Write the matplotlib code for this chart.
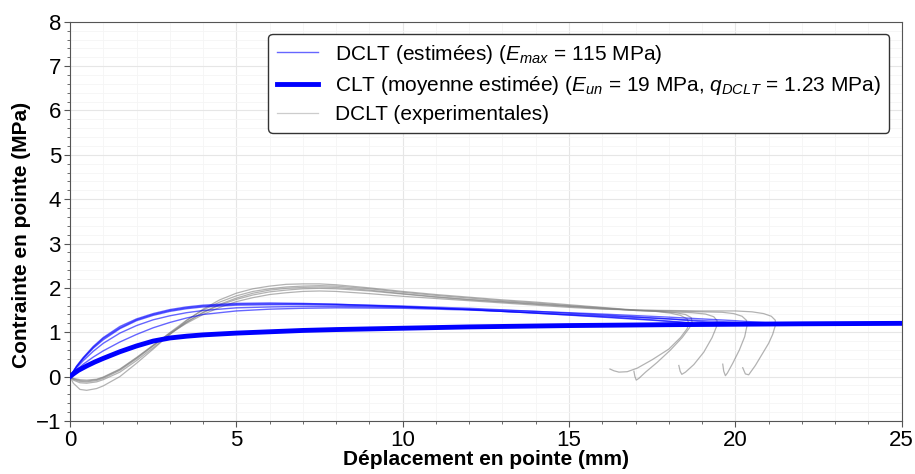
import matplotlib
matplotlib.use("Agg")
import matplotlib.pyplot as plt
from matplotlib.ticker import MultipleLocator
from matplotlib.lines import Line2D

plt.rcParams["font.family"] = ["Liberation Sans", "DejaVu Sans"]
plt.rcParams["mathtext.fontset"] = "custom"
plt.rcParams["mathtext.rm"] = "Liberation Sans"
plt.rcParams["mathtext.it"] = "Liberation Sans:italic"

# ── CLT moyenne estimée (courbe épaisse) ─────────────────────────────────
clt_x = [0, 0.1, 0.25, 0.5, 0.75, 1, 1.5, 2, 2.5, 3, 3.5, 4, 5, 6, 7, 8,
         10, 12, 15, 18, 20, 22, 25]
clt_y = [0, 0.06, 0.14, 0.24, 0.33, 0.41, 0.56, 0.69, 0.8, 0.87, 0.91, 0.94,
         0.98, 1.01, 1.04, 1.06, 1.09, 1.12, 1.15, 1.17, 1.18, 1.19, 1.2]

# ── DCLT estimées (courbes fines) ─────────────────────────────────────────
est_x1 = [0, 0.2, 0.4, 0.7, 1, 1.5, 2, 2.5, 3, 3.5, 4, 5, 6, 7, 8, 10, 12, 14, 16, 17.5, 18.6]
est_y1 = [0, 0.24, 0.43, 0.68, 0.88, 1.13, 1.3, 1.42, 1.51, 1.57, 1.61, 1.65, 1.66, 1.65, 1.63,
          1.58, 1.51, 1.43, 1.34, 1.27, 1.21]
est_x2 = [0, 0.2, 0.4, 0.7, 1, 1.5, 2, 2.5, 3, 3.5, 4, 5, 6, 7, 8, 10, 12, 14, 16, 17.5, 18.7]
est_y2 = [0, 0.22, 0.4, 0.64, 0.83, 1.08, 1.26, 1.38, 1.47, 1.53, 1.57, 1.61, 1.62, 1.62, 1.61,
          1.57, 1.51, 1.43, 1.35, 1.28, 1.21]
est_x3 = [0, 0.2, 0.4, 0.7, 1, 1.5, 2, 2.5, 3, 3.5, 4, 5, 6, 7, 8, 10, 12, 14, 16, 18, 19.45]
est_y3 = [0, 0.23, 0.42, 0.66, 0.86, 1.1, 1.28, 1.4, 1.49, 1.55, 1.59, 1.63, 1.64, 1.64, 1.63,
          1.59, 1.54, 1.47, 1.39, 1.3, 1.21]
est_x4 = [0, 0.2, 0.4, 0.7, 1, 1.5, 2, 2.5, 3, 3.5, 4, 5, 6, 7, 8, 10, 12, 14, 16, 18, 20.35]
est_y4 = [0, 0.15, 0.28, 0.44, 0.58, 0.78, 0.95, 1.1, 1.22, 1.32, 1.4, 1.48, 1.52, 1.54, 1.55,
          1.54, 1.5, 1.44, 1.37, 1.3, 1.21]
est_x5 = [0, 0.2, 0.4, 0.7, 1, 1.5, 2, 2.5, 3, 3.5, 4, 5, 6, 7, 8, 10, 12, 14, 16, 18, 20, 21.2]
est_y5 = [0, 0.2, 0.36, 0.57, 0.75, 0.98, 1.15, 1.28, 1.37, 1.44, 1.49, 1.55, 1.57, 1.58, 1.58,
          1.56, 1.52, 1.47, 1.41, 1.34, 1.26, 1.2]

# ── DCLT expérimentales (courbes grises) ─────────────────────────────────
exp_x1 = [0, 0.1, 0.3, 0.5, 0.8, 1, 1.5, 2, 2.5, 3, 3.5, 4, 4.5, 5, 5.5, 6, 6.5, 7, 7.5, 8,
          9, 10, 11, 12, 13, 14, 15, 16, 17, 17.6, 18.05, 18.35, 18.55, 18.6, 18.55, 18.35,
          18.0, 17.5, 17.05, 16.75, 16.5, 16.35, 16.23]
exp_y1 = [0, -0.15, -0.29, -0.31, -0.27, -0.21, 0.0, 0.3, 0.62, 0.95, 1.26, 1.52, 1.73,
          1.88, 1.98, 2.04, 2.08, 2.09, 2.09, 2.07, 2.0, 1.92, 1.85, 1.79, 1.73, 1.68, 1.62,
          1.56, 1.5, 1.47, 1.43, 1.38, 1.3, 1.2, 1.08, 0.88, 0.62, 0.38, 0.19, 0.11, 0.1,
          0.13, 0.17]
exp_x2 = [0, 0.1, 0.3, 0.5, 0.8, 1, 1.5, 2, 2.5, 3, 3.5, 4, 4.5, 5, 5.5, 6, 6.5, 7, 7.5, 8,
          9, 10, 11, 12, 13, 14, 15, 16, 17, 17.7, 18.2, 18.5, 18.67, 18.7, 18.62, 18.4,
          18.05, 17.65, 17.3, 17.1, 17.02, 16.98, 16.95]
exp_y2 = [0, -0.06, -0.11, -0.12, -0.09, -0.04, 0.14, 0.4, 0.69, 0.99, 1.27, 1.5, 1.68,
          1.82, 1.92, 1.98, 2.02, 2.04, 2.05, 2.04, 1.98, 1.9, 1.83, 1.77, 1.71, 1.66, 1.6,
          1.55, 1.49, 1.47, 1.44, 1.4, 1.33, 1.22, 1.1, 0.88, 0.6, 0.32, 0.1, -0.04, -0.08,
          0.0, 0.12]
exp_x3 = [0, 0.1, 0.3, 0.5, 0.8, 1, 1.5, 2, 2.5, 3, 3.5, 4, 4.5, 5, 5.5, 6, 6.5, 7, 7.5, 8,
          9, 10, 11, 12, 13, 14, 15, 16, 17, 18, 18.7, 19.1, 19.35, 19.45, 19.43, 19.3,
          19.05, 18.75, 18.5, 18.39, 18.34, 18.3]
exp_y3 = [0, -0.08, -0.14, -0.15, -0.12, -0.07, 0.1, 0.36, 0.65, 0.95, 1.22, 1.45, 1.63,
          1.77, 1.88, 1.95, 1.99, 2.01, 2.02, 2.01, 1.95, 1.87, 1.8, 1.74, 1.69, 1.64, 1.59,
          1.54, 1.49, 1.46, 1.44, 1.41, 1.35, 1.26, 1.12, 0.88, 0.55, 0.27, 0.1, 0.05,
          0.12, 0.25]
exp_x4 = [0, 0.1, 0.3, 0.5, 0.8, 1, 1.5, 2, 2.5, 3, 3.5, 4, 4.5, 5, 5.5, 6, 6.5, 7, 7.5, 8,
          9, 10, 11, 12, 13, 14, 15, 16, 17, 18, 19, 19.6, 19.95, 20.2, 20.33, 20.35, 20.28,
          20.12, 19.92, 19.76, 19.7, 19.65, 19.62]
exp_y4 = [0, -0.05, -0.09, -0.1, -0.07, -0.02, 0.16, 0.42, 0.7, 0.98, 1.23, 1.44, 1.61,
          1.74, 1.84, 1.91, 1.95, 1.98, 1.99, 1.98, 1.93, 1.86, 1.79, 1.73, 1.68, 1.63, 1.58,
          1.53, 1.5, 1.48, 1.46, 1.45, 1.42, 1.36, 1.27, 1.15, 0.9, 0.6, 0.3, 0.08, 0.02,
          0.12, 0.28]
exp_x5 = [0, 0.1, 0.3, 0.5, 0.8, 1, 1.5, 2, 2.5, 3, 3.5, 4, 4.5, 5, 5.5, 6, 6.5, 7, 7.5, 8,
          9, 10, 11, 12, 13, 14, 15, 16, 17, 18, 19, 20, 20.5, 20.85, 21.08, 21.2, 21.2,
          21.12, 21.0, 20.8, 20.6, 20.4, 20.3, 20.22]
exp_y5 = [0, -0.04, -0.07, -0.08, -0.06, -0.01, 0.17, 0.43, 0.71, 0.97, 1.2, 1.4, 1.56, 1.69,
          1.78, 1.85, 1.89, 1.92, 1.93, 1.92, 1.87, 1.81, 1.76, 1.71, 1.66, 1.61, 1.56, 1.52,
          1.5, 1.49, 1.48, 1.48, 1.46, 1.42, 1.36, 1.27, 1.15, 0.95, 0.75, 0.5, 0.25, 0.04,
          0.06, 0.2]

EST = [(est_x1, est_y1), (est_x2, est_y2), (est_x3, est_y3), (est_x4, est_y4), (est_x5, est_y5)]
EXP = [(exp_x1, exp_y1), (exp_x2, exp_y2), (exp_x3, exp_y3), (exp_x4, exp_y4), (exp_x5, exp_y5)]

GREY = "#808080"
BLUE = "#0000ff"

fig = plt.figure(figsize=(9.15, 4.74), dpi=100, facecolor="white")
ax = fig.add_axes([0.0765, 0.112, 0.909, 0.842])

for xs, ys in EXP:
    ax.plot(xs, ys, color=GREY, lw=0.9, alpha=0.6, zorder=2)
for xs, ys in EST:
    ax.plot(xs, ys, color=BLUE, lw=1.0, alpha=0.6, zorder=3)
ax.plot(clt_x, clt_y, color=BLUE, lw=3.5, zorder=4)

ax.set_xlim(0, 25)
ax.set_ylim(-1, 8)
ax.xaxis.set_major_locator(MultipleLocator(5))
ax.xaxis.set_minor_locator(MultipleLocator(1))
ax.yaxis.set_major_locator(MultipleLocator(1))
ax.yaxis.set_minor_locator(MultipleLocator(0.2))

ax.grid(True, which="major", color="#e6e6e6", lw=0.8)
ax.grid(True, which="minor", color="#f5f5f5", lw=0.6)
ax.set_axisbelow(True)

for sp in ax.spines.values():
    sp.set_color("#555555")
ax.tick_params(which="both", colors="#555555", labelcolor="black", labelsize=16, pad=2)
ax.tick_params(which="major", length=4.5)
ax.tick_params(which="minor", length=2.5)

ax.set_xlabel("Déplacement en pointe (mm)", fontsize=15, fontweight="bold", labelpad=-1)
ax.set_ylabel("Contrainte en pointe (MPa)", fontsize=15, fontweight="bold")
ax.yaxis.set_label_coords(-0.047, 0.465)

handles = [
    Line2D([], [], color=BLUE, lw=1.0, alpha=0.6),
    Line2D([], [], color=BLUE, lw=3.5),
    Line2D([], [], color=GREY, lw=0.9, alpha=0.4),
]
labels = [
    r"DCLT (estimées) ($E_{max}$ = 115 MPa)",
    r"CLT (moyenne estimée) ($E_{un}$ = 19 MPa, $q_{DCLT}$ = 1.23 MPa)",
    "DCLT (experimentales)",
]
leg = ax.legend(handles, labels, loc="upper right", fontsize=15, frameon=True,
                fancybox=True, framealpha=1, edgecolor="#333333",
                handlelength=2.0, handletextpad=0.8, labelspacing=0.4,
                borderaxespad=0.6)
leg.get_frame().set_linewidth(1.0)

fig.savefig("out.png", dpi=100, facecolor="white")
